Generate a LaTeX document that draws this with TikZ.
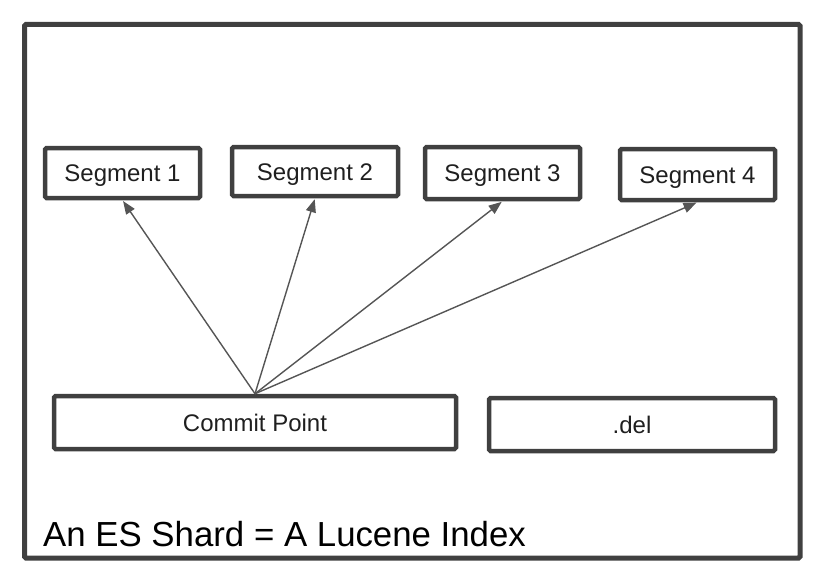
\documentclass[tikz,border=0pt]{standalone}
\usepackage{fontspec}
\setmainfont{Liberation Sans}
\usetikzlibrary{arrows.meta}
\definecolor{framegray}{HTML}{404040}
\definecolor{linegray}{HTML}{555555}

\begin{document}
\begin{tikzpicture}[x=1pt,y=-1pt,
  seg/.style={draw=framegray,line width=4.5pt,rounded corners=1.5pt,inner sep=0pt,
    text=black!88,text height=17pt,text depth=0pt,font=\fontsize{24}{28}\selectfont},
  ptr/.style={draw=linegray,line width=1.4pt,shorten >=1pt,
    -{Triangle[length=13pt,width=10pt]}}]
\useasboundingbox (0,0) rectangle (830,586);
\draw[framegray,line width=5pt,rounded corners=1.5pt] (24.5,24.5) rectangle (800,558);
\node[seg,minimum width=155pt,minimum height=50pt] (seg1) at (122.5,173) {Segment 1};
\node[seg,minimum width=166pt,minimum height=49pt] (seg2) at (315,171.5) {Segment 2};
\node[seg,minimum width=155pt,minimum height=52pt] (seg3) at (502.5,173) {Segment 3};
\node[seg,minimum width=155pt,minimum height=51pt] (seg4) at (697.5,174.5) {Segment 4};
\node[seg,minimum width=402pt,minimum height=53pt] (commit) at (255,422.5) {Commit Point};
\node[seg,minimum width=286pt,minimum height=53pt] (del) at (632,424.5) {.del};
\foreach \s in {seg1,seg2,seg3,seg4}
  \draw[ptr] (commit.north) -- (\s.south);
\node[anchor=base west,inner sep=0pt,text=black,font=\fontsize{34.8}{40}\selectfont]
  (title) at (43,546) {An ES Shard = A Lucene Index};
\end{tikzpicture}
\end{document}
